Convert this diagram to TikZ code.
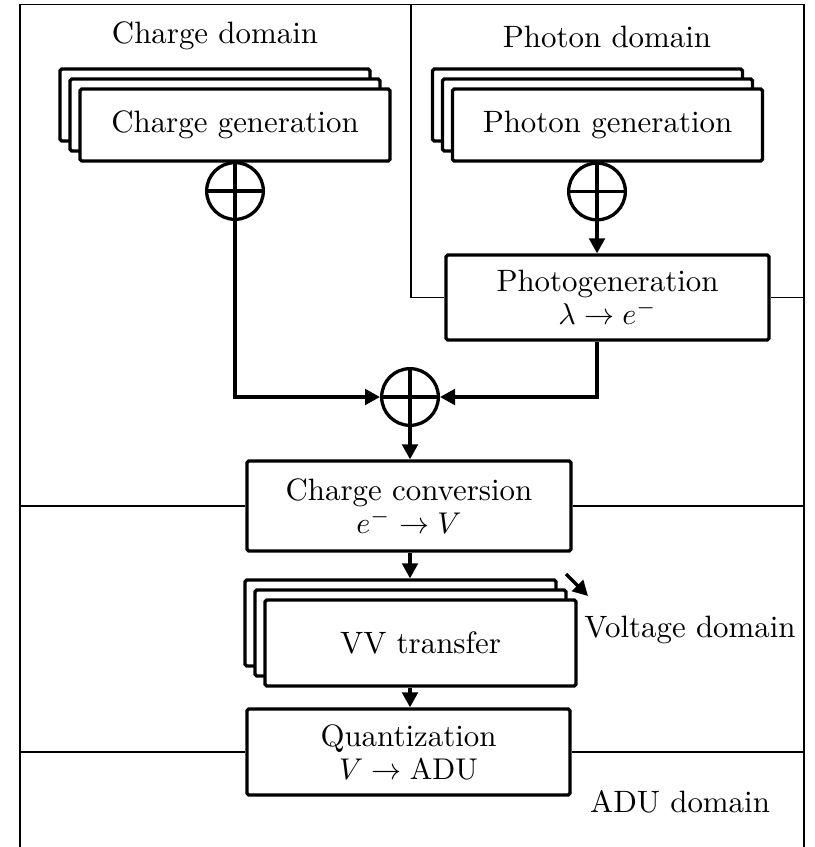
\documentclass[tikz,border=0pt]{standalone}
\usetikzlibrary{arrows.meta}
\begin{document}
\begin{tikzpicture}[x=0.33333pt,y=-0.33333pt,
  font=\fontsize{10.3}{10.9}\selectfont,
  blk/.style={draw, line width=1.1pt, fill=white, rounded corners=0.6pt, align=center, inner sep=0pt},
  gen/.style={blk, minimum width=103.33pt, minimum height=24pt},
  thinline/.style={line width=0.55pt},
  conn/.style={line width=1.1pt, -{Triangle[length=5pt,width=5.2pt]}},
  sumnode/.style={draw, circle, line width=1.1pt, minimum size=18.9pt, inner sep=0pt,
    path picture={\draw[line width=1.1pt] (path picture bounding box.north) -- (path picture bounding box.south)
      (path picture bounding box.west) -- (path picture bounding box.east);}}]
\useasboundingbox (0,0) rectangle (814,847);

% frame and domain dividers
\coordinate (fbl) at (20,847);
\coordinate (ftl) at (20,4.5);
\coordinate (ftr) at (804,4.5);
\coordinate (fbr) at (804,847);
\coordinate (dtop) at (411,4.5);
\draw[thinline] (fbl) -- (ftl) -- (ftr) -- (fbr);

% domain labels
\node (chd) at (215,36) {Charge domain};
\node (phd) at (607,37) {Photon domain};
\node (vd) at (690,630) {Voltage domain};
\node (ad) at (680,802) {ADU domain};

% charge generation stack
\node[gen] (cg2) at (215,105) {};
\node[gen] (cg1) at (225,115) {};
\node[gen] (cg) at (235,125) {Charge generation};
% photon generation stack
\node[gen] (pgen2) at (587.5,105) {};
\node[gen] (pgen1) at (597.5,115) {};
\node[gen] (pgen) at (607.5,125) {Photon generation};

% sums
\node[sumnode] (cs) at (235,191) {};
\node[sumnode] (ps) at (597,191.5) {};
\node[sumnode] (sum) at (410,397) {};

% photogeneration
\node[blk, minimum width=107.67pt, minimum height=28.33pt] (pg) at (607.5,297.5)
  {Photogeneration\\ $\lambda\to e^-$};

% charge conversion
\node[blk, minimum width=108pt, minimum height=30pt] (cc) at (409,506)
  {Charge conversion\\ $e^-\to V$};

% VV transfer stack
\node[blk, minimum width=103.67pt, minimum height=28.67pt] (vv2) at (400.5,623) {};
\node[blk, minimum width=103.67pt, minimum height=28.67pt] (vv1) at (410.5,633) {};
\node[blk, minimum width=103.67pt, minimum height=28.67pt] (vv) at (420.5,643) {VV transfer};

% quantization
\node[blk, minimum width=107.67pt, minimum height=28.67pt] (q) at (408.5,752)
  {Quantization\\ $V\to\mathrm{ADU}$};

% domain dividers
\coordinate (pgr) at (804,297.5);
\coordinate (ccl) at (20,506);
\coordinate (ccr) at (804,506);
\coordinate (ql) at (20,752);
\coordinate (qr) at (804,752);
\draw[thinline] (dtop) |- (pg.west);
\draw[thinline] (pg.east) -- (pgr);
\draw[thinline] (ccl) -- (cc.west);
\draw[thinline] (cc.east) -- (ccr);
\draw[thinline] (ql) -- (q.west);
\draw[thinline] (q.east) -- (qr);

% connectors
\draw[conn] (ps.south) -- (ps.south |- pg.north);
\draw[conn] (cs.south) |- (sum.west);
\draw[conn] (ps.center |- pg.south) |- (sum.east);
\draw[conn] (sum.south) -- (sum.south |- cc.north);
\draw[conn] (sum.south |- cc.south) -- (sum.south |- vv2.north);
\draw[conn] (sum.south |- vv.south) -- (sum.south |- q.north);

% small arrow towards voltage domain
\coordinate (va) at (566,574);
\coordinate (vb) at (588,596);
\draw[conn] (va) -- (vb);
\end{tikzpicture}
\end{document}
